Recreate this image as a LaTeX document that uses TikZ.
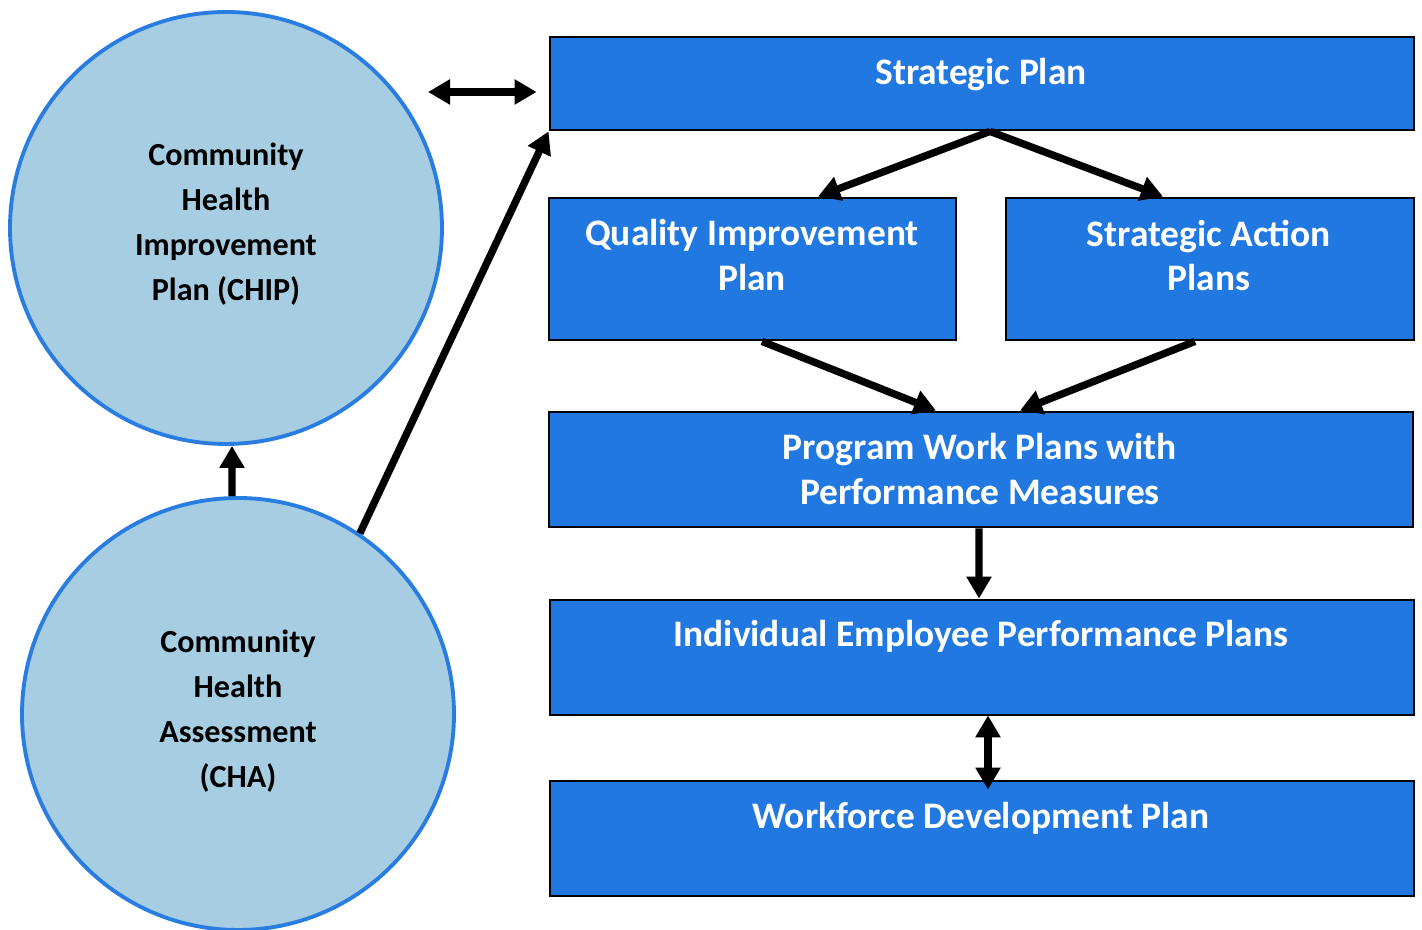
\documentclass[tikz,border=0pt]{standalone}
\usepackage{fontspec}
\setmainfont{Carlito}
\usepackage{tikz}
\usetikzlibrary{arrows.meta, positioning}
\definecolor{planblue}{RGB}{33,120,224}
\definecolor{commfill}{RGB}{166,205,226}
\definecolor{commline}{RGB}{42,125,224}

\begin{document}
\begin{tikzpicture}[
    plan/.style={draw, fill=planblue, line width=0.8pt, inner sep=0pt},
    ptxt/.style={text=white, font=\fontsize{10.65}{12.8}\selectfont\bfseries,
      align=center, inner sep=0pt},
    comm/.style={circle, draw=commline, fill=commfill, line width=1.1pt,
      minimum size=4.32cm, inner sep=0pt},
    ctxt/.style={font=\fontsize{9.15}{12.8}\selectfont\bfseries,
      align=center, inner sep=0pt},
    arr/.style={-{Triangle[length=0.22cm, width=0.24cm]}, line width=2.1pt},
    darr/.style={{Triangle[length=0.22cm, width=0.24cm]}-{Triangle[length=0.22cm, width=0.24cm]},
      line width=2.1pt},
  ]
    \useasboundingbox (0,0) rectangle (14.22,9.30);

    % Community circles (left)
    \node[comm] (chip) at (2.26, 7.02) {};
    \node[ctxt] (chiptxt) at (2.26, 7.06) {Community\\Health\\Improvement\\Plan (CHIP)};
    \node[comm] (cha) at (2.38, 2.16) {};
    \node[ctxt] (chatxt) at (2.38, 2.185) {Community\\Health\\Assessment\\(CHA)};

    % Plan boxes (right)
    \node[plan, minimum width=8.64cm, minimum height=0.93cm] (sp) at (9.82, 8.465) {};
    \node[ptxt] (sptxt) at (9.81, 8.555) {Strategic Plan};
    \node[plan, minimum width=4.07cm, minimum height=1.42cm] (qi) at (7.525, 6.61) {};
    \node[ptxt] (qitxt) at (7.52, 6.745) {Quality Improvement\\Plan};
    \node[plan, minimum width=4.08cm, minimum height=1.42cm] (sap) at (12.10, 6.61) {};
    \node[ptxt] (saptxt) at (12.09, 6.745) {Strategic Action\\Plans};
    \node[plan, minimum width=8.64cm, minimum height=1.15cm] (pwp) at (9.81, 4.605) {};
    \node[ptxt] (pwptxt) at (9.80, 4.605) {Program Work Plans with\\Performance Measures};
    \node[plan, minimum width=8.64cm, minimum height=1.15cm] (iep) at (9.82, 2.725) {};
    \node[ptxt] (ieptxt) at (9.81, 2.94) {Individual Employee Performance Plans};
    \node[plan, minimum width=8.64cm, minimum height=1.15cm] (wdp) at (9.82, 0.915) {};
    \node[ptxt] (wdptxt) at (9.81, 1.12) {Workforce Development Plan};

    % Connectors
    \coordinate (cl) at (4.28, 8.38);
    \draw[darr, shorten >=0.12cm] (cl) -- (cl -| sp.west);
    \draw[arr] (cha.56) -- (sp.south west);
    \draw[arr] ([xshift=-0.06cm]cha.north) -- ([xshift=0.06cm]chip.south);
    \draw[arr] ([xshift=0.08cm]sp.south) -- ([xshift=0.655cm]qi.north);
    \draw[arr] ([xshift=0.08cm]sp.south) -- ([xshift=-0.47cm]sap.north);
    \draw[arr] ([xshift=0.095cm]qi.south) -- ([xshift=-0.45cm]pwp.north);
    \draw[arr] ([xshift=-0.15cm]sap.south) -- ([xshift=0.39cm]pwp.north);
    \draw[arr] ([xshift=-0.02cm]pwp.south) -- ([xshift=-0.03cm]iep.north);
    \draw[darr] ([xshift=0.06cm, yshift=0.01cm]iep.south) -- ([xshift=0.06cm, yshift=-0.1cm]wdp.north);
\end{tikzpicture}
\end{document}
